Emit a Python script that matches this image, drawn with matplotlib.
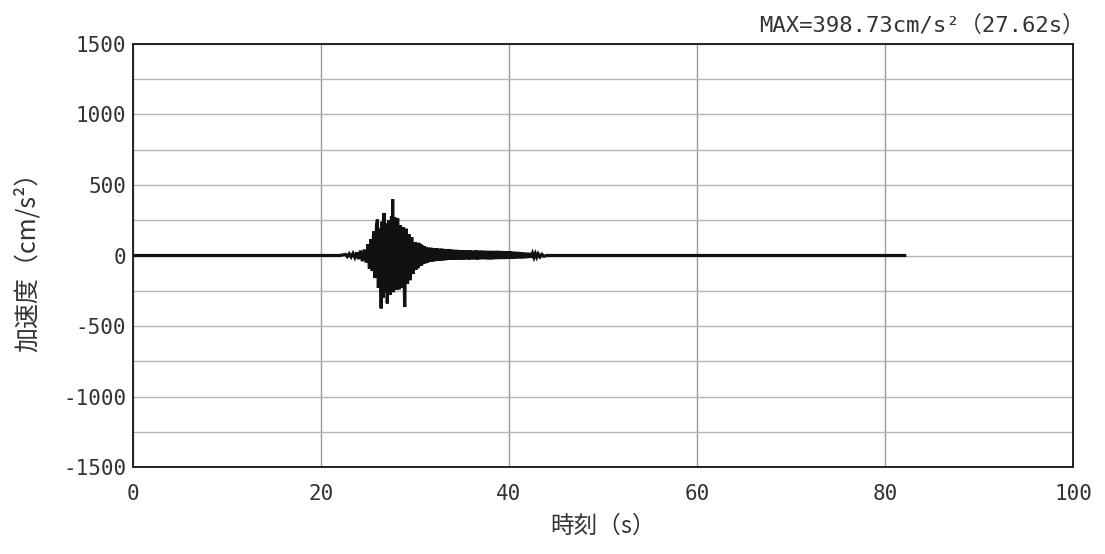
import numpy as np
import matplotlib.pyplot as plt
from matplotlib.ticker import MultipleLocator

plt.rcParams['axes.unicode_minus'] = False

# 加速度波形 (時刻 s, 加速度 cm/s2) のピーク値を図から読み取り
pre_event = [(0.0, 0), (22.0, 0)]
onset = [(22.6, 8), (22.8, -8), (23.0, 12), (23.2, -10), (23.4, 15), (23.6, -14),
         (23.8, 22), (24.0, -25), (24.2, 35), (24.4, -40), (24.6, 42), (24.8, -50),
         (25.0, 80), (25.15, -95), (25.3, 115), (25.45, -110), (25.6, 170),
         (25.75, -160), (25.9, 210)]
main_burst = [(26.0, 255), (26.1, -230), (26.25, 190), (26.4, -375), (26.5, 240),
              (26.6, -300), (26.7, 300), (26.8, -260), (26.95, 230), (27.05, -340),
              (27.2, 250), (27.35, -280), (27.5, 280), (27.56, -250), (27.62, 398.73),
              (27.7, -260), (27.85, 270), (28.0, -245), (28.15, 265), (28.3, -240),
              (28.45, 215), (28.6, -230), (28.75, 200), (28.9, -365), (29.05, 190),
              (29.2, -200), (29.35, 150), (29.5, -175), (29.65, 130), (29.8, -130)]
coda = [(30.0, 95), (30.1, -100), (30.2, 88), (30.3, -90), (30.4, 90), (30.5, -75),
        (30.6, 80), (30.7, -70), (30.8, 70), (30.9, -60), (31.0, 65), (31.1, -55),
        (31.2, 60), (31.3, -50), (31.4, 55), (31.55, -45), (31.7, 55), (31.85, -42),
        (32.0, 50), (32.15, -40), (32.3, 50), (32.45, -38), (32.6, 48), (32.75, -35),
        (32.9, 48), (33.05, -34), (33.2, 45), (33.35, -32), (33.5, 45), (33.65, -30),
        (33.8, 42), (33.95, -30), (34.1, 40), (34.25, -30), (34.4, 40), (34.55, -28),
        (34.7, 38), (34.85, -28), (35.0, 36), (35.15, -28), (35.3, 36), (35.45, -27),
        (35.6, 35), (35.75, -28), (35.9, 35), (36.05, -27), (36.2, 34), (36.35, -27),
        (36.5, 35), (36.65, -28), (36.8, 34), (36.95, -26), (37.1, 34), (37.25, -26),
        (37.4, 33), (37.55, -26), (37.7, 33), (37.85, -27), (38.0, 32), (38.15, -27),
        (38.3, 32), (38.45, -25), (38.6, 32), (38.75, -25), (38.9, 32), (39.05, -24),
        (39.2, 31), (39.35, -24), (39.5, 30), (39.65, -24), (39.8, 30), (39.95, -23),
        (40.1, 28), (40.25, -22), (40.4, 27), (40.55, -22), (40.7, 25), (40.85, -20),
        (41.0, 24), (41.15, -20), (41.3, 22), (41.45, -19), (41.6, 20), (41.75, -18),
        (41.9, 18), (42.05, -16), (42.2, 17), (42.35, -15), (42.5, 15), (42.65, -14),
        (42.8, 14), (42.95, -12), (43.1, 12), (43.3, -10), (43.5, 8), (43.7, -6),
        (44.0, 0)]
post_event = [(82.1, 0)]

x_ticks = [0, 20, 40, 60, 80, 100]
y_ticks = [-1500, -1000, -500, 0, 500, 1000, 1500]

num_font = ['DejaVu Sans Mono', 'Noto Sans CJK JP']
jp_font = ['Noto Sans CJK JP', 'DejaVu Sans']

record = np.array(pre_event + onset + main_burst + coda + post_event)

fig = plt.figure(figsize=(11.05, 5.54), dpi=100)
ax = fig.add_axes([0.1204, 0.157, 0.8506, 0.7636])

ax.plot(record[:, 0], record[:, 1], color='#111111', lw=2.3, solid_joinstyle='miter')

ax.set_xlim(0, 100)
ax.set_ylim(-1500, 1500)
ax.set_xticks(x_ticks)
ax.set_yticks(y_ticks)
ax.yaxis.set_minor_locator(MultipleLocator(250))

# グリッド
ax.grid(True, which='major', axis='x', color='#9a9a9a', lw=1.0)
ax.grid(True, which='both', axis='y', color='#b5b5b5', lw=1.0)
ax.set_axisbelow(True)

for s in ax.spines.values():
    s.set_color('#222222')
    s.set_linewidth(1.4)

ax.tick_params(which='both', length=0)
ax.tick_params(axis='x', pad=12)
ax.tick_params(axis='y', pad=5)
for lab in ax.get_xticklabels() + ax.get_yticklabels():
    lab.set_family(num_font)
    lab.set_fontsize(15)
    lab.set_color('#333333')

ax.set_xlabel('時刻（s）', family=jp_font, fontsize=17, color='#333333', labelpad=8)
ax.set_ylabel('加速度（cm/s²）', family=jp_font, fontsize=18, color='#333333', labelpad=16)

ax.text(1.012, 1.02, 'MAX=398.73cm/s²（27.62s）', transform=ax.transAxes,
        ha='right', va='bottom', family=num_font, fontsize=16, color='#333333')

plt.savefig('out.png', dpi=100)
